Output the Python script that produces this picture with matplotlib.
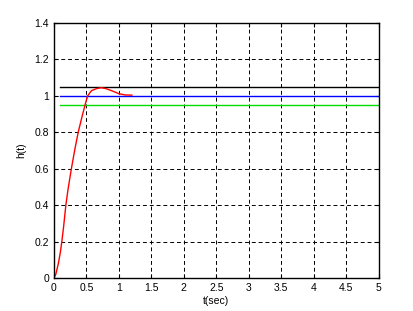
import matplotlib
matplotlib.use("Agg")
import matplotlib.pyplot as plt

# step response
t = [0, 0.03, 0.07, 0.1, 0.123, 0.15, 0.185, 0.22, 0.27, 0.32, 0.375, 0.43, 0.48, 0.52,
     0.58, 0.66, 0.73, 0.8, 0.9, 1.0, 1.1, 1.2]
h = [0, 0.02, 0.08, 0.14, 0.2, 0.28, 0.4, 0.49, 0.6, 0.7, 0.8, 0.88, 0.95, 1.0,
     1.029, 1.04, 1.045, 1.04, 1.027, 1.012, 1.005, 1.004]

band_t = [0.1, 5]
upper = 1.05
final = 1.0
lower = 0.95

xticks = [0, 0.5, 1, 1.5, 2, 2.5, 3, 3.5, 4, 4.5, 5]
xlabels = ['0', '0.5', '1', '1.5', '2', '2.5', '3', '3.5', '4', '4.5', '5']
yticks = [0, 0.2, 0.4, 0.6, 0.8, 1, 1.2, 1.4]
ylabels = ['0', '0.2', '0.4', '0.6', '0.8', '1', '1.2', '1.4']

plt.rcParams['font.family'] = ['Liberation Sans', 'DejaVu Sans']

fig = plt.figure(figsize=(4.14, 3.11), dpi=100)
ax = fig.add_axes([0.130, 0.106, 0.785, 0.820])

ax.plot(band_t, [upper, upper], color='black', lw=1.0)
ax.plot(band_t, [final, final], color='#0000ff', lw=1.0)
ax.plot(band_t, [lower, lower], color='#00dd00', lw=1.0)
ax.plot(t, h, color='red', lw=1.0)

ax.set_xlim(0, 5)
ax.set_ylim(0, 1.4)
ax.set_xticks(xticks)
ax.set_xticklabels(xlabels)
ax.set_yticks(yticks)
ax.set_yticklabels(ylabels)
ax.grid(True, color='black', linestyle=(0, (4, 3)), lw=0.7)
ax.tick_params(direction='in', top=True, right=True, labelsize=7.5, length=3, width=0.8)
for s in ax.spines.values():
    s.set_linewidth(1.0)

ax.set_xlabel('t(sec)', fontsize=7.5, labelpad=2)
ax.set_ylabel('h(t)', fontsize=7.5, labelpad=6)

fig.savefig('out.png', dpi=100, facecolor='white')
